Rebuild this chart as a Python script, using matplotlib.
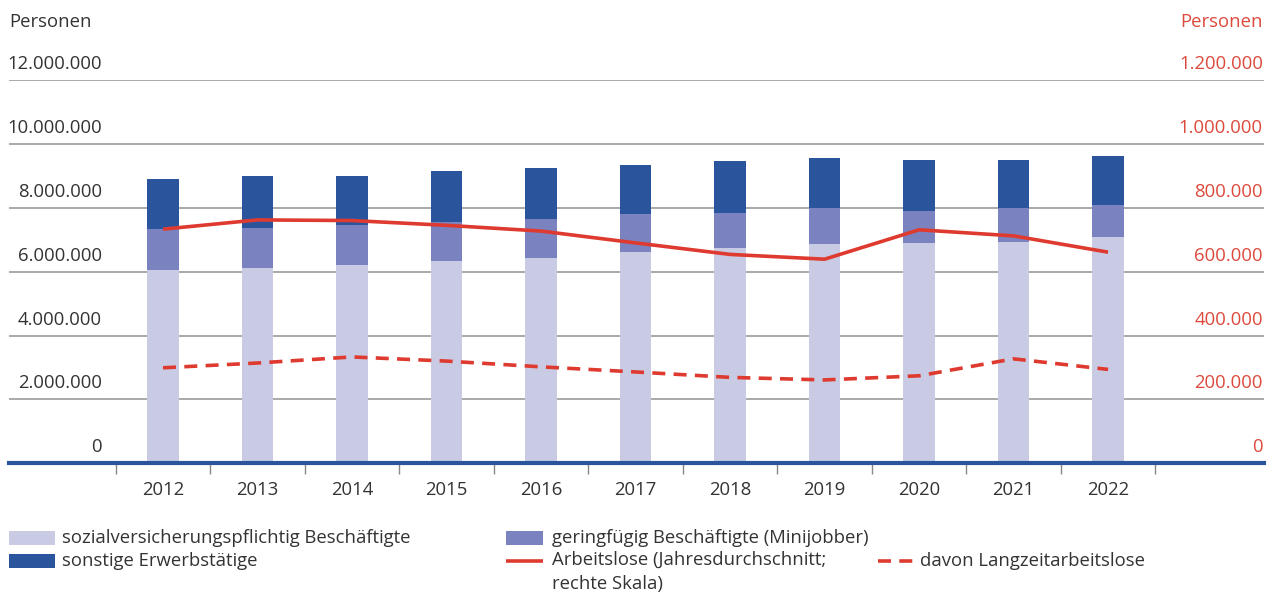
import matplotlib
matplotlib.use("Agg")
import matplotlib.pyplot as plt
from matplotlib.patches import Rectangle
from matplotlib.lines import Line2D
import matplotlib.transforms as mtrans
import numpy as np

# ---------------- data ----------------
years = ["2012", "2013", "2014", "2015", "2016", "2017",
         "2018", "2019", "2020", "2021", "2022"]
# cumulative bar tops (persons)
svp = [6060000, 6110000, 6200000, 6320000, 6430000, 6630000,
       6750000, 6860000, 6890000, 6930000, 7070000]          # sozialversicherungspflichtig
svp_plus_mini = [7320000, 7375000, 7470000, 7550000, 7660000, 7810000,
                 7850000, 7990000, 7890000, 7990000, 8090000]
total = [8910000, 8990000, 8990000, 9140000, 9260000, 9350000,
         9470000, 9550000, 9510000, 9510000, 9620000]
mini = [b - a for a, b in zip(svp, svp_plus_mini)]            # geringfügig
sonstige = [c - b for b, c in zip(svp_plus_mini, total)]      # sonstige Erwerbstätige

arbeitslose = [733000, 762000, 760000, 745000, 727000, 690000,
               654000, 639000, 731000, 712000, 661000]
langzeit = [299000, 314000, 333000, 320000, 302000, 286000,
            269000, 261000, 274000, 327000, 294000]

left_ticks = [0, 2000000, 4000000, 6000000, 8000000, 10000000, 12000000]
right_ticks = [0, 200000, 400000, 600000, 800000, 1000000, 1200000]

# ---------------- style ----------------
C_LIGHT = "#c9cbe5"
C_MID = "#7a82bf"
C_DARK = "#2a559d"
C_RED = "#df3a2f"
C_RED_TXT = "#dc4a3c"
C_TXT = "#333333"
C_GRID = "#a3a3a3"
FONT = "Open Sans"
FS = 13.3

W, H = 1272, 593
fig = plt.figure(figsize=(W / 100, H / 100), dpi=100)
plt.rcParams["font.family"] = [FONT, "DejaVu Sans"]

def fx(px):
    return px / W

def fy(py):
    return 1 - py / H

ax_left, ax_right = 9, 1264
ax_bottom, ax_top = 463.3, 80
ax = fig.add_axes([fx(ax_left), fy(ax_bottom), fx(ax_right - ax_left),
                   (ax_bottom - ax_top) / H])
ax2 = ax.twinx()

x = np.arange(len(years))
bw = 0.33
ax.bar(x, svp, bw, color=C_LIGHT, zorder=2)
ax.bar(x, mini, bw, bottom=svp, color=C_MID, zorder=2)
ax.bar(x, sonstige, bw, bottom=svp_plus_mini, color=C_DARK, zorder=2)

ax.set_xlim(-1.63, 11.65)
ax.set_ylim(0, 12000000)
ax2.set_ylim(0, 1200000)

# grid lines
for t in left_ticks[1:]:
    ax.axhline(t, color=C_GRID, lw=1.3, zorder=1)

ax2.plot(x, arbeitslose, color=C_RED, lw=2.6, solid_capstyle="butt", zorder=5)
ax2.plot(x, langzeit, color=C_RED, lw=2.6, dashes=(3.6, 2.3), zorder=5)

for a in (ax, ax2):
    for s in ("top", "left", "right"):
        a.spines[s].set_visible(False)
ax2.spines["bottom"].set_visible(False)
ax.spines["bottom"].set_color(C_DARK)
ax.spines["bottom"].set_linewidth(3)
ax.spines["bottom"].set_zorder(6)

ax.set_yticks([])
ax2.set_yticks([])

ax.set_xticks(x)
ax.set_xticklabels(years, fontsize=FS, color=C_TXT)
ax.set_xticks(np.arange(-0.5, len(years)), minor=True)
ax.tick_params(axis="x", which="major", length=0, pad=13)
ax.tick_params(axis="x", which="minor", length=8, width=1, color="#888888",
               direction="out")

def de(v):
    return f"{v:,}".replace(",", ".")

tl = mtrans.blended_transform_factory(fig.transFigure, ax.transData)
tr = mtrans.blended_transform_factory(fig.transFigure, ax2.transData)
off = mtrans.ScaledTranslation(0, 7 / 100, fig.dpi_scale_trans)
for t in left_ticks:
    ax.text(fx(102), t, de(t), transform=tl + off, ha="right", va="bottom",
            fontsize=FS, color=C_TXT)
for t in right_ticks:
    ax2.text(fx(1263), t, de(t), transform=tr + off, ha="right", va="bottom",
             fontsize=FS, color=C_RED_TXT)

fig.text(fx(9), fy(22), "Personen", ha="left", va="center", fontsize=FS,
         color=C_TXT)
fig.text(fx(1263), fy(22), "Personen", ha="right", va="center", fontsize=FS,
         color=C_RED_TXT)

# ---------------- legend ----------------
def swatch(x0, x1, y0, y1, color):
    fig.add_artist(Rectangle((fx(x0), fy(y1)), fx(x1 - x0), (y1 - y0) / H,
                             transform=fig.transFigure, color=color, lw=0))

def lline(x0, x1, yc, **kw):
    fig.add_artist(Line2D([fx(x0), fx(x1)], [fy(yc), fy(yc)],
                          transform=fig.transFigure, color=C_RED, lw=2.6, **kw))

def ltext(x0, yc, s):
    fig.text(fx(x0), fy(yc), s, ha="left", va="center", fontsize=FS,
             color=C_TXT, linespacing=1.45)

swatch(9, 55, 531, 545, C_LIGHT)
ltext(62, 538, "sozialversicherungspflichtig Beschäftigte")
swatch(9, 55, 554, 568, C_DARK)
ltext(62, 561, "sonstige Erwerbstätige")

swatch(506, 543, 531, 545, C_MID)
ltext(552, 538, "geringfügig Beschäftigte (Minijobber)")
lline(506, 543, 561, solid_capstyle="butt")
fig.text(fx(552), fy(551), "Arbeitslose (Jahresdurchschnitt;\nrechte Skala)",
         ha="left", va="top", fontsize=FS, color=C_TXT, linespacing=1.4)
lline(878, 913, 561, dashes=(3.6, 2.3))
ltext(920, 561, "davon Langzeitarbeitslose")

fig.savefig("out.png", dpi=100)
